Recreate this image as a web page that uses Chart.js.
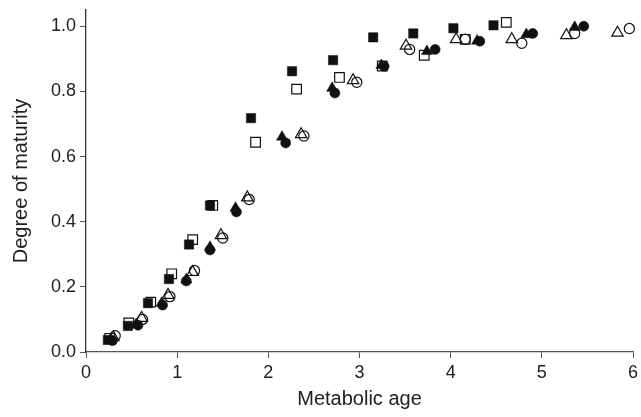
<!DOCTYPE html>
<html>
<head>
<meta charset="utf-8">
<script src="https://cdn.jsdelivr.net/npm/chart.js@4"></script>
<style>
html,body{margin:0;padding:0;background:#fff;}
#c{display:block;}
</style>
</head>
<body>
<canvas id="c" width="641" height="417"></canvas>
<script>
// Filled squares
const xFS = [0.24,0.46,0.68,0.91,1.13,1.36,1.81,2.26,2.71,3.15,3.59,4.03,4.47];
const yFS = [0.037,0.080,0.150,0.224,0.330,0.450,0.718,0.862,0.896,0.966,0.978,0.994,1.003];
// Open squares
const xOS = [0.26,0.47,0.71,0.94,1.17,1.39,1.86,2.31,2.78,3.25,3.71,4.16,4.61];
const yOS = [0.042,0.089,0.153,0.240,0.345,0.450,0.644,0.807,0.843,0.878,0.911,0.960,1.012];
// Filled triangles
const xFT = [0.27,0.55,0.83,1.10,1.36,1.64,2.15,2.70,3.24,3.74,4.29,4.83,5.36];
const yFT = [0.037,0.085,0.150,0.222,0.322,0.442,0.660,0.810,0.880,0.923,0.955,0.975,0.997];
// Filled circles
const xFC = [0.29,0.57,0.84,1.10,1.36,1.65,2.19,2.73,3.27,3.83,4.32,4.90,5.46];
const yFC = [0.035,0.082,0.144,0.218,0.313,0.430,0.642,0.795,0.877,0.929,0.954,0.978,1.000];
// Open triangles
const xOT = [0.30,0.61,0.90,1.17,1.48,1.77,2.36,2.93,3.51,4.06,4.67,5.27,5.83];
const yOT = [0.045,0.104,0.175,0.245,0.358,0.474,0.668,0.834,0.940,0.960,0.960,0.972,0.980];
// Open circles
const xOC = [0.32,0.62,0.92,1.19,1.50,1.79,2.39,2.97,3.55,4.16,4.78,5.36,5.96];
const yOC = [0.050,0.100,0.170,0.250,0.350,0.468,0.663,0.828,0.929,0.960,0.948,0.978,0.993];

const yTicks = [0.0,0.2,0.4,0.6,0.8,1.0];
const xTicks = [0,1,2,3,4,5,6];

function pts(xs, ys){ return xs.map((x,i)=>({x:x, y:ys[i]})); }

const INK = '#111';
function ds(xs, ys, style, filled, r){
  return {
    data: pts(xs, ys),
    pointStyle: style,
    pointRadius: r,
    pointHoverRadius: r,
    pointBackgroundColor: filled ? INK : 'rgba(0,0,0,0)',
    pointBorderColor: INK,
    pointBorderWidth: filled ? 0.5 : 1.2,
    showLine: false,
    clip: false
  };
}

const FONT = "'Liberation Sans', Arial, Helvetica, sans-serif";

new Chart(document.getElementById('c'), {
  type: 'scatter',
  data: {
    datasets: [
      ds(xFS, yFS, 'rect', true, 6.6),
      ds(xFC, yFC, 'circle', true, 5.0),
      ds(xFT, yFT, 'triangle', true, 6.4),
      ds(xOS, yOS, 'rect', false, 6.8),
      ds(xOC, yOC, 'circle', false, 5.1),
      ds(xOT, yOT, 'triangle', false, 6.6)
    ]
  },
  options: {
    responsive: false,
    animation: false,
    devicePixelRatio: 1,
    layout: { padding: { left: 0, right: 5, top: 10, bottom: 0 } },
    plugins: { legend: { display: false }, tooltip: { enabled: false } },
    scales: {
      x: {
        type: 'linear',
        min: 0, max: 6,
        afterBuildTicks: s => { s.ticks = xTicks.map(v => ({value: v})); },
        afterFit: s => { s.height = 65; s.paddingLeft = 0; s.paddingRight = 0; },
        grid: { drawOnChartArea: false, drawTicks: true, tickLength: 6, color: '#555', lineWidth: 1 },
        border: { display: true, color: '#555', width: 1.3 },
        ticks: { color: '#222', font: { family: FONT, size: 18 }, padding: 4, maxRotation: 0,
                 callback: v => String(v) },
        title: { display: true, text: 'Metabolic age', color: '#222',
                 font: { family: FONT, size: 20 }, padding: { top: 0, bottom: 6 } }
      },
      y: {
        type: 'linear',
        min: 0, max: 1.05,
        afterBuildTicks: s => { s.ticks = yTicks.map(v => ({value: v})); },
        afterFit: s => { s.width = 86; s.paddingTop = 0; s.paddingBottom = 0; },
        grid: { drawOnChartArea: false, drawTicks: true, tickLength: 6, color: '#555', lineWidth: 1 },
        border: { display: true, color: '#333', width: 1.3 },
        ticks: { color: '#222', font: { family: FONT, size: 18 }, padding: 4,
                 callback: v => Number(v).toFixed(1) },
        title: { display: true, text: 'Degree of maturity', color: '#222',
                 font: { family: FONT, size: 20 }, padding: { top: 9, bottom: 0 } }
      }
    }
  }
});
</script>
</body>
</html>
